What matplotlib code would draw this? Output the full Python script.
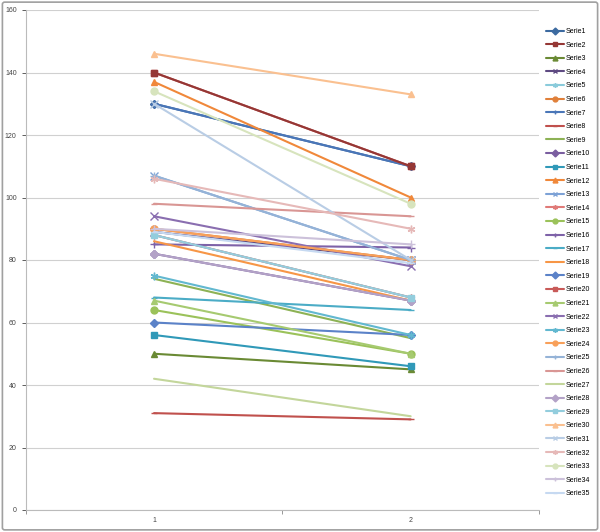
import matplotlib
matplotlib.use("Agg")
import matplotlib.pyplot as plt
from matplotlib.patches import FancyBboxPatch

categories = [1, 2]
series_names = ["Serie%d" % i for i in range(1, 36)]
start_values = [130, 140, 50, 89, 88, 90, 130, 31, 74, 82,
                56, 137, 107, 88, 64, 85, 68, 86, 60, 140,
                67, 94, 75, 90, 107, 98, 42, 82, 88, 146,
                130, 106, 134, 90, 89]
end_values = [110, 110, 45, 80, 68, 80, 110, 29, 55, 67,
              46, 100, 80, 68, 50, 84, 64, 67, 56, 110,
              50, 78, 56, 80, 80, 94, 30, 67, 68, 133,
              80, 90, 98, 85, 79]
colors = ["#3C6AA0", "#953735", "#6A8A34", "#5E4A82", "#8ACBDB", "#E0803A",
          "#4A76B8", "#C0504D", "#8DB255", "#7A5EA0", "#3099B8", "#F0883A",
          "#7DA2D6", "#E07A78", "#9BC25A", "#7E62A8", "#4BACC6", "#F79646",
          "#5B82C8", "#C85A58", "#A6CA70", "#8A6EB0", "#62B8D0", "#F8A05A",
          "#95B3D7", "#D99694", "#C3D69B", "#B3A2C7", "#93CDDD", "#FAC090",
          "#B9CDE5", "#E6B9B8", "#D7E4BD", "#CCC1DA", "#C6D9F1"]
marker_cycle = ["D", "s", "^", "x", (6, 2, 0), "o", "+", "_", None]
y_ticks = [0, 20, 40, 60, 80, 100, 120, 140, 160]

plt.rcParams['font.family'] = ['Liberation Sans', 'DejaVu Sans']
fig = plt.figure(figsize=(6.0, 5.32), dpi=100)
ax = fig.add_axes([25.7 / 600, 22 / 532, (539 - 25.7) / 600, 500 / 532])

for i, name in enumerate(series_names):
    m = marker_cycle[i % len(marker_cycle)]
    ms = 5
    if m in ("x", "+", (6, 2, 0)):
        ms = 5.5
    elif m == "D":
        ms = 4
    z = 2.5 if name == "Serie2" else 2
    ax.plot(categories, [start_values[i], end_values[i]], color=colors[i],
            linewidth=1.5, marker=m, markersize=ms, markeredgewidth=1.0,
            label=name, solid_capstyle='round', zorder=z)

ax.set_xlim(0.5, 2.5)
ax.set_ylim(0, 160)
ax.set_yticks(y_ticks)
ax.tick_params(axis='y', labelsize=5, colors="#444444", length=3, width=0.6)
ax.set_xticks(categories)
ax.set_xticks([0.5, 1.5, 2.5], minor=True)
ax.tick_params(axis='x', which='major', length=0, labelsize=5, labelcolor="#444444", pad=5)
ax.tick_params(axis='x', which='minor', length=3, width=0.6, color="#888888")
ax.grid(axis='y', color="#D0D0D0", linewidth=0.8)
ax.set_axisbelow(True)
for s in ["top", "right"]:
    ax.spines[s].set_visible(False)
ax.spines["left"].set_color("#BBBBBB")
ax.spines["bottom"].set_color("#BBBBBB")
ax.spines["left"].set_linewidth(0.8)
ax.spines["bottom"].set_linewidth(0.8)

leg = fig.legend(loc="upper left", bbox_to_anchor=(546 / 600, 1 - 28 / 532),
                 frameon=False, fontsize=5, handlelength=2.6, handletextpad=0.3,
                 labelspacing=0.95, borderaxespad=0, borderpad=0)
for line in leg.get_lines():
    line.set_markersize(3.5)

fig.patches.append(FancyBboxPatch((0.004, 0.004), 0.992, 0.992,
                                  boxstyle="round,pad=0,rounding_size=0.004",
                                  transform=fig.transFigure, fill=False,
                                  edgecolor="#A0A0A0", linewidth=1.2))
fig.savefig("out.png", dpi=100)
